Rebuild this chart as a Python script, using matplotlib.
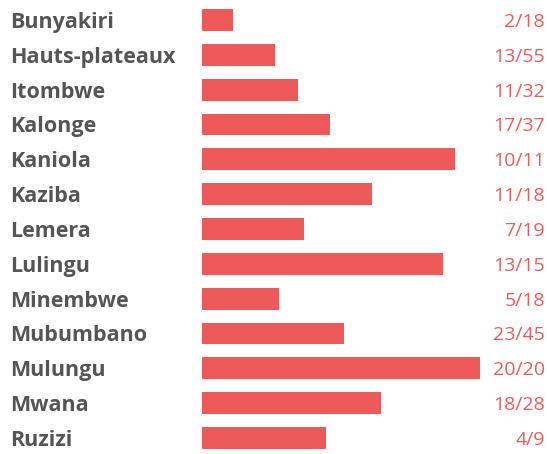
import matplotlib
matplotlib.use('Agg')
from matplotlib import pyplot as plt
from matplotlib import transforms

names = ['Bunyakiri', 'Hauts-plateaux', 'Itombwe', 'Kalonge', 'Kaniola', 'Kaziba',
         'Lemera', 'Lulingu', 'Minembwe', 'Mubumbano', 'Mulungu', 'Mwana', 'Ruzizi']
num = [2, 13, 11, 17, 10, 11, 7, 13, 5, 23, 20, 18, 4]
den = [18, 55, 32, 37, 11, 18, 19, 15, 18, 45, 20, 28, 9]
# bar lengths as drawn (Hauts-plateaux bar is drawn a bit longer than 13/55)
share = [2 / 18, 0.262, 11 / 32, 17 / 37, 10 / 11, 11 / 18, 7 / 19, 13 / 15,
         5 / 18, 23 / 45, 20 / 20, 18 / 28, 4 / 9]

red = '#EE5A5A'

fig = plt.figure(figsize=(5.47, 4.54), dpi=100)
ax = fig.add_axes([202 / 547, 0, 278 / 547, 1])
ax.barh(range(len(names)), share, height=0.63, color=red)
ax.set_xlim(0, 1)
ax.set_ylim(12.46, -0.574)
ax.axis('off')

trans = transforms.blended_transform_factory(fig.transFigure, ax.transData)
for i, (name, n, d) in enumerate(zip(names, num, den)):
    ax.text(10 / 547, i, name, transform=trans, fontsize=15.5,
            fontweight='bold', color='#555555', ha='left', va='center_baseline',
            family='Open Sans')
    ax.text(545 / 547, i, f'{n}/{d}', transform=trans, fontsize=14,
            color=red, ha='right', va='center_baseline', family='Open Sans')

fig.savefig('out.png', dpi=100)
